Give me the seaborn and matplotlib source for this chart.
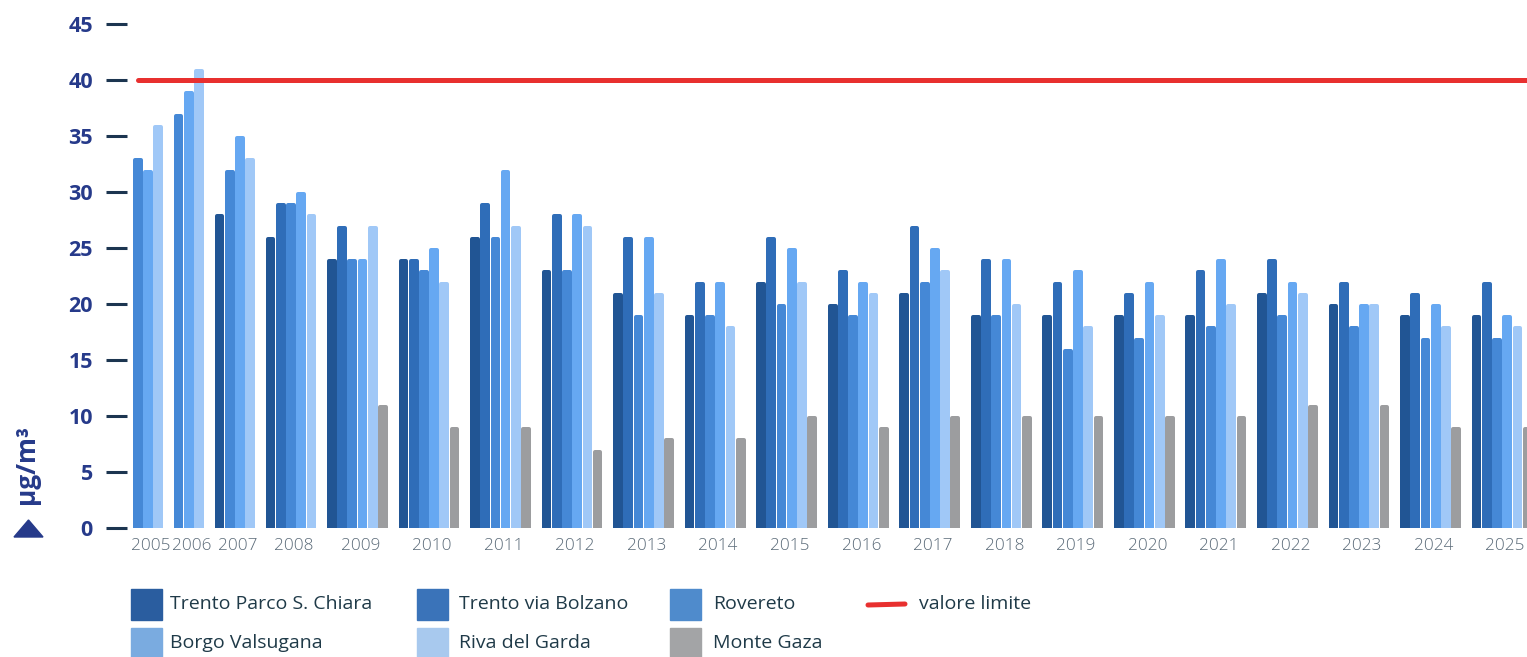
import numpy as np
import pandas as pd
import seaborn as sns
import matplotlib
matplotlib.use("Agg")
import matplotlib.pyplot as plt
import matplotlib.transforms as mtrans
from matplotlib.patches import Rectangle, Polygon
from matplotlib.lines import Line2D

# ---------------- data ----------------
years = list(range(2005, 2026))
series = ["Trento Parco S. Chiara", "Trento via Bolzano", "Rovereto",
          "Borgo Valsugana", "Riva del Garda", "Monte Gaza"]
nan = np.nan
trento_parco = [nan, nan, 28, 26, 24, 24, 26, 23, 21, 19, 22, 20, 21, 19, 19, 19, 19, 21, 20, 19, 19]
trento_bolzano = [nan, nan, nan, 29, 27, 24, 29, 28, 26, 22, 26, 23, 27, 24, 22, 21, 23, 24, 22, 21, 22]
rovereto = [33, 37, 32, 29, 24, 23, 26, 23, 19, 19, 20, 19, 22, 19, 16, 17, 18, 19, 18, 17, 17]
borgo_valsugana = [32, 39, 35, 30, 24, 25, 32, 28, 26, 22, 25, 22, 25, 24, 23, 22, 24, 22, 20, 20, 19]
riva_del_garda = [36, 41, 33, 28, 27, 22, 27, 27, 21, 18, 22, 21, 23, 20, 18, 19, 20, 21, 20, 18, 18]
monte_gaza = [nan, nan, nan, nan, 11, 9, 9, 7, 8, 8, 10, 9, 10, 10, 10, 10, 10, 11, 11, 9, 9]
limit_value = 40
y_ticks = list(range(0, 50, 5))

bar_colors = ["#215594", "#2f6db8", "#4588d6", "#66a8f2", "#a0c8f7", "#9c9d9f"]
legend_colors = ["#2a5d9f", "#3a73b9", "#4f8bcc", "#7aabe0", "#a8c9ee", "#a3a4a6"]
limit_color = "#e8302f"
navy = "#263a8a"

all_vals = [trento_parco, trento_bolzano, rovereto, borgo_valsugana, riva_del_garda, monte_gaza]

# ------------- layout of bars (packed per year, one gap between years) -------------
rows = []
centers = []
pos = 0
for i, yr in enumerate(years):
    grp = []
    for name, vals in zip(series, all_vals):
        v = vals[i]
        if not np.isnan(v):
            rows.append(dict(pos=pos, value=v, series=name, year=yr))
            grp.append(pos)
            pos += 1
    centers.append(float(np.mean(grp)))
    pos += 1
df = pd.DataFrame(rows)

# ---------------- figure ----------------
sns.set_theme(style="white")
plt.rcParams['font.family'] = ['Open Sans', 'DejaVu Sans']

W, H = 1527, 657
fig = plt.figure(figsize=(W / 100, H / 100), dpi=100)

px_unit = 10.22
ax_left, ax_right = 127, 1527
y_base = 528          # pixel row of value 0 (from top)
px_val = 11.2         # pixels per unit value
ymax = 46
top_px = y_base - ymax * px_val
ax = fig.add_axes([ax_left / W, (H - y_base) / H, (ax_right - ax_left) / W, (y_base - top_px) / H])

sns.barplot(data=df, x="pos", y="value", hue="series", hue_order=series,
            palette=bar_colors, native_scale=True, dodge=False, width=0.56,
            saturation=1, legend=False, ax=ax)

# rounded bar tops: edge in face colour with round joins; compensate cap height
cap_px = 2.0
lw_pt = 2 * cap_px * 72 / 100
for p in ax.patches:
    fc = p.get_facecolor()
    p.set_edgecolor(fc)
    p.set_linewidth(lw_pt)
    p.set_joinstyle("round")
    p.set_height(p.get_height() - cap_px / px_val)

xl = -0.46 - 6 / px_unit
ax.set_xlim(xl, xl + (ax_right - ax_left) / px_unit)
ax.set_ylim(0, ymax)

for s in ax.spines.values():
    s.set_visible(False)

ax.set_yticks(y_ticks)
ax.set_yticklabels([str(t) for t in y_ticks])
ax.tick_params(axis="y", left=True, length=15.1, width=2.2, color="#1c3550",
               pad=9.5, labelsize=15.5, labelcolor=navy)
for lbl in ax.get_yticklabels():
    lbl.set_fontweight("bold")

ax.set_xticks(centers)
ax.set_xticklabels([str(y) for y in years])
ax.tick_params(axis="x", bottom=False, length=0, pad=7, labelsize=12.3, labelcolor="#5a6a78")
shift = mtrans.ScaledTranslation(3 / 100, 0, fig.dpi_scale_trans)
for lbl in ax.get_xticklabels():
    lbl.set_fontweight("light")
    lbl.set_transform(lbl.get_transform() + shift)
ax.set_xlabel("")
ax.set_ylabel("")

ax.axhline(limit_value, xmin=(138 - ax_left) / (ax_right - ax_left), xmax=1,
           color=limit_color, lw=3.6, zorder=5)

# y label and triangle
fig.text(26 / W, 1 - 465 / H, "µg/m³", rotation=90, ha="center", va="center",
         fontsize=19, fontweight="bold", color=navy)
tri = Polygon([[14 / W, 1 - 537 / H], [43 / W, 1 - 537 / H], [28.5 / W, 1 - 520 / H]],
              closed=True, transform=fig.transFigure, color=navy)
fig.add_artist(tri)

# ---------------- legend ----------------
col_patch_x = [131, 417, 670]
col_text_x = [170, 459, 713]
row_y = [604, 643]
text_color = "#1f3a48"
for k, name in enumerate(series):
    r, c = divmod(k, 3)
    yc = row_y[r]
    fig.add_artist(Rectangle((col_patch_x[c] / W, 1 - (yc + 15.5) / H), 31 / W, 31 / H,
                             transform=fig.transFigure, color=legend_colors[k]))
    fig.text(col_text_x[c] / W, 1 - yc / H, name, ha="left", va="center",
             fontsize=14, color=text_color)
fig.add_artist(Line2D([868 / W, 905 / W], [1 - 605 / H, 1 - 604 / H],
                      transform=fig.transFigure, color=limit_color, lw=3.6))
fig.text(919 / W, 1 - 604 / H, "valore limite", ha="left", va="center",
         fontsize=14, color=text_color)

fig.savefig("out.png", dpi=100, facecolor="white")
